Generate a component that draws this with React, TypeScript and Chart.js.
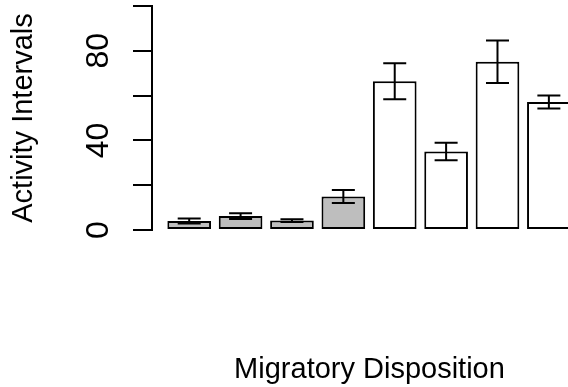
import React, { useEffect, useRef } from "react";
import { Chart, registerables } from "chart.js";

Chart.register(...registerables);

// Data
const categories = ["1", "2", "3", "4", "5", "6", "7", "8"];
const means = [4.0, 6.2, 4.2, 15.0, 66.4, 35.0, 75.1, 57.1];
const errors = [1.1, 1.3, 0.6, 2.9, 8.0, 3.9, 9.5, 2.9];
const fillColors = ["#bebebe", "#bebebe", "#bebebe", "#bebebe", "#ffffff", "#ffffff", "#ffffff", "#ffffff"];
const yTickValues = [0, 20, 40, 60, 80, 100];
const yTickLabelled = [0, 40, 80];
const xTitle = "Migratory Disposition";
const yTitle = "Activity Intervals";

const FONT = "'Liberation Sans', Arial, Helvetica, sans-serif";

const errorBarPlugin = {
  id: "errorBars",
  afterDatasetsDraw(chart: any) {
    const meta = chart.getDatasetMeta(0);
    const yScale = chart.scales.y;
    const ctx = chart.ctx;
    ctx.save();
    ctx.strokeStyle = "#000";
    ctx.lineWidth = 2;
    ctx.lineCap = "butt";
    const half = 11.5;
    meta.data.forEach((bar: any, i: number) => {
      const x = bar.x;
      const top = yScale.getPixelForValue(means[i] + errors[i]);
      const bot = yScale.getPixelForValue(means[i] - errors[i]);
      ctx.beginPath();
      ctx.moveTo(x, top);
      ctx.lineTo(x, bot);
      ctx.moveTo(x - half, top);
      ctx.lineTo(x + half, top);
      ctx.moveTo(x - half, bot);
      ctx.lineTo(x + half, bot);
      ctx.stroke();
    });
    ctx.restore();
  },
};

export default function App() {
  const canvasRef = useRef<HTMLCanvasElement | null>(null);

  useEffect(() => {
    if (!canvasRef.current) return;
    const data = categories.map((_, i) => ({ x: i + 1, y: means[i] }));
    const chart = new Chart(canvasRef.current, {
      type: "bar",
      data: {
        datasets: [
          {
            data: data as any,
            backgroundColor: fillColors,
            borderColor: "#000",
            borderWidth: 2,
            borderSkipped: false,
            barPercentage: 0.85,
            categoryPercentage: 1,
          },
        ],
      },
      options: {
        animation: false,
        responsive: false,
        devicePixelRatio: 1,
        layout: { padding: { top: 6, left: 0, right: 0, bottom: 0 } },
        plugins: { legend: { display: false }, tooltip: { enabled: false } },
        scales: {
          x: {
            type: "linear",
            offset: false,
            bounds: "data",
            min: 0.276,
            max: 8.742,
            afterBuildTicks(scale: any) {
              scale.ticks = categories.map((_, i) => ({ value: i + 1 }));
            },
            grid: { display: false, drawTicks: false },
            border: { display: false },
            ticks: { display: false },
            title: {
              display: true,
              text: xTitle,
              color: "#000",
              font: { family: FONT, size: 29, lineHeight: 1 },
              padding: { top: 125, bottom: 3 },
            },
          },
          y: {
            type: "linear",
            min: 0,
            max: 100,
            afterBuildTicks(scale: any) {
              scale.ticks = yTickValues.map((v) => ({ value: v }));
            },
            afterFit(scale: any) {
              scale.width = 152;
              scale.paddingTop = 0;
              scale.paddingBottom = 0;
            },
            grid: {
              display: true,
              drawOnChartArea: false,
              drawTicks: true,
              tickLength: 19,
              color: "#000",
              lineWidth: 2,
            },
            border: { display: true, color: "#000", width: 2 },
            ticks: {
              minRotation: 90,
              maxRotation: 90,
              crossAlign: "center",
              padding: 16,
              color: "#000",
              font: { family: FONT, size: 32 },
              callback: (v: any) => (yTickLabelled.includes(Number(v)) ? String(v) : ""),
            },
            title: {
              display: true,
              text: yTitle,
              color: "#000",
              font: { family: FONT, size: 29, lineHeight: 1 },
              padding: { top: 9, bottom: 0 },
            },
          },
        },
      },
      plugins: [errorBarPlugin],
    });
    return () => chart.destroy();
  }, []);

  return (
    <div
      style={{
        position: "fixed",
        left: 0,
        top: 0,
        width: 568,
        height: 387,
        overflow: "hidden",
        background: "#fff",
      }}
    >
      <canvas ref={canvasRef} width={587} height={387} style={{ width: 587, height: 387, display: "block" }} />
    </div>
  );
}
